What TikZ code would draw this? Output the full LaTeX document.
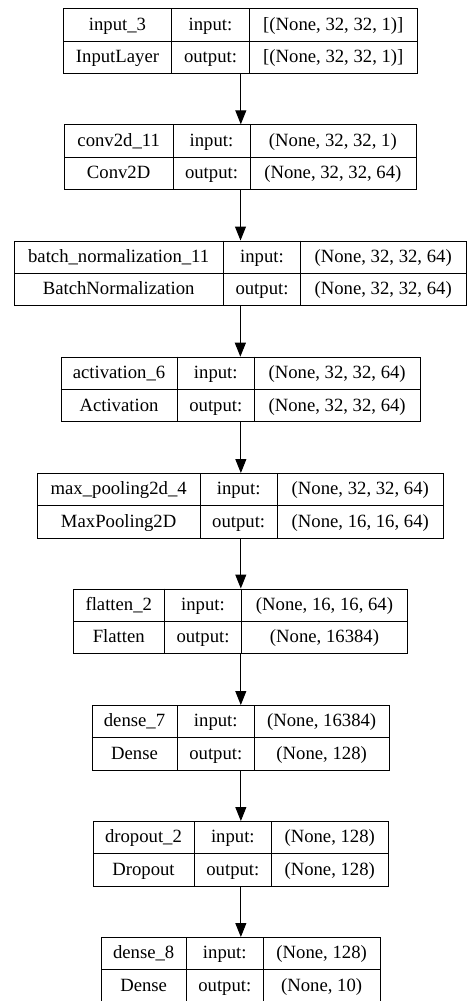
\documentclass[tikz,border=0pt]{standalone}
\usepackage{fontspec}
\newfontfamily\layerfont{Liberation Serif}
\usetikzlibrary{arrows.meta}

\begin{document}
\begin{tikzpicture}[x=1pt, y=-1pt, line width=1pt, >={Triangle[length=14pt, width=11pt]},
    every node/.style={font=\layerfont\fontsize{18.7}{20}\selectfont, inner sep=0pt},
    layerbox/.style={draw, rectangle, minimum height=64.7pt, anchor=north west},
    cell/.style={anchor=base}]
    \useasboundingbox (0,0) rectangle (466,1001);

    \foreach \ty/\xl/\xa/\xb/\xr/\lname/\lclass/\shin/\shout [count=\i] in {
        8.3/63.3/171.7/249.3/417.3/input\_3/InputLayer/{[(None, 32, 32, 1)]}/{[(None, 32, 32, 1)]},
        124.3/64.3/173/250/415.7/conv2d\_11/Conv2D/{(None, 32, 32, 1)}/{(None, 32, 32, 64)},
        240.5/14/223.3/300.7/465.7/batch\_normalization\_11/BatchNormalization/{(None, 32, 32, 64)}/{(None, 32, 32, 64)},
        356.7/60.7/177.3/254.3/420/activation\_6/Activation/{(None, 32, 32, 64)}/{(None, 32, 32, 64)},
        473/37.3/200/277.3/443.3/max\_pooling2d\_4/MaxPooling2D/{(None, 32, 32, 64)}/{(None, 16, 16, 64)},
        588.5/73.3/164.3/241.7/407.3/flatten\_2/Flatten/{(None, 16, 16, 64)}/{(None, 16384)},
        705/91.7/177.3/254.3/389/dense\_7/Dense/{(None, 16384)}/{(None, 128)},
        821/93/194/271.7/387.7/dropout\_2/Dropout/{(None, 128)}/{(None, 128)},
        937/101/186.3/263.3/380/dense\_8/Dense/{(None, 128)}/{(None, 10)}} {
        \node[layerbox, minimum width=\xr-\xl] (L\i) at (\xl,\ty) {};
        \draw (L\i.west) -- (L\i.east);
        \draw (\xa,\ty) -- (\xa,\ty+64.7);
        \draw (\xb,\ty) -- (\xb,\ty+64.7);

        \node[cell] (N\i) at ({(\xl+\xa)/2},\ty+21.8) {\lname};
        \node[cell] (C\i) at ({(\xl+\xa)/2},\ty+54.4) {\lclass};
        \node[cell] (I\i) at ({(\xa+\xb)/2},\ty+21.8) {input:};
        \node[cell] (O\i) at ({(\xa+\xb)/2},\ty+54.4) {output:};
        \node[cell] (S\i) at ({(\xb+\xr)/2},\ty+21.8) {\shin};
        \node[cell] (T\i) at ({(\xb+\xr)/2},\ty+54.4) {\shout};
    }

    \foreach \i [evaluate=\i as \j using int(\i+1)] in {1,...,8}
        \draw[->] (L\i.south) -- (L\i.south |- L\j.north);
\end{tikzpicture}
\end{document}
